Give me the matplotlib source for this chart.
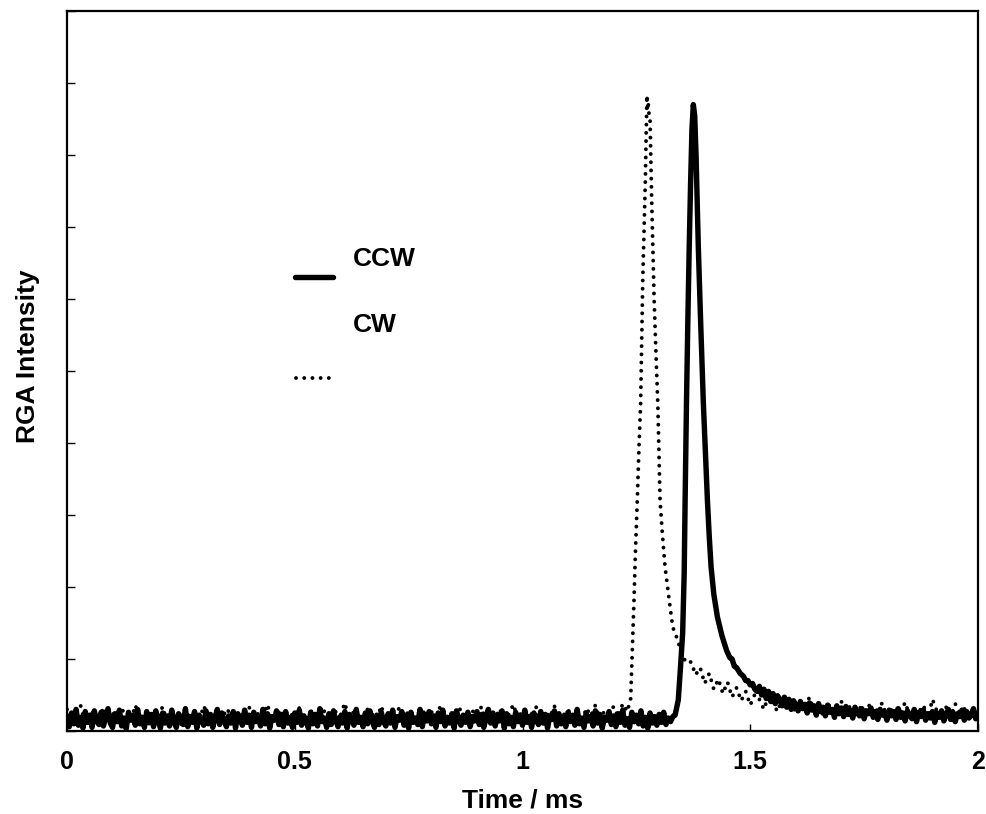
import numpy as np
import matplotlib
matplotlib.use("Agg")
import matplotlib.pyplot as plt

plt.rcParams['font.family'] = ['Liberation Sans', 'DejaVu Sans']
plt.rcParams['font.weight'] = 'bold'

# --- CCW trace (solid), 5 us sampling on the flat parts ---
ccw_base_t = np.round(np.arange(0.0, 1.3325, 0.005), 4)
ccw_base_y = [0.21, 0.06, 0.25, 0.10, 0.30, 0.08, 0.19, 0.04, 0.27, 0.12, 0.22, 0.05, 0.28, 0.14, 0.09, 0.26, 0.07, 0.20, 0.31, 0.11,
              0.05, 0.24, 0.13, 0.29, 0.07, 0.18, 0.03, 0.26, 0.15, 0.22, 0.08, 0.30, 0.10, 0.19, 0.05, 0.27, 0.12, 0.23, 0.06, 0.28,
              0.16, 0.04, 0.25, 0.11, 0.21, 0.07, 0.29, 0.13, 0.05, 0.24, 0.18, 0.09, 0.31, 0.06, 0.20, 0.12, 0.27, 0.04, 0.22, 0.15,
              0.08, 0.28, 0.10, 0.23, 0.05, 0.19, 0.30, 0.09, 0.25, 0.14, 0.06, 0.21, 0.11, 0.27, 0.04, 0.24, 0.16, 0.08, 0.29, 0.12,
              0.22, 0.05, 0.26, 0.13, 0.18, 0.07, 0.30, 0.10, 0.24, 0.04, 0.20, 0.15, 0.28, 0.09, 0.23, 0.06, 0.27, 0.11, 0.19, 0.05,
              0.25, 0.12, 0.29, 0.08, 0.21, 0.14, 0.04, 0.26, 0.10, 0.23, 0.07, 0.31, 0.13, 0.18, 0.05, 0.24, 0.09, 0.28, 0.15, 0.06,
              0.20, 0.11, 0.27, 0.04, 0.23, 0.16, 0.08, 0.30, 0.12, 0.19, 0.06, 0.25, 0.10, 0.28, 0.14, 0.05, 0.22, 0.09, 0.26, 0.13,
              0.07, 0.24, 0.11, 0.29, 0.05, 0.20, 0.15, 0.27, 0.08, 0.22, 0.04, 0.26, 0.12, 0.18, 0.09, 0.30, 0.06, 0.23, 0.14, 0.27,
              0.10, 0.21, 0.05, 0.25, 0.13, 0.29, 0.07, 0.19, 0.11, 0.24, 0.04, 0.28, 0.16, 0.08, 0.22, 0.12, 0.26, 0.06, 0.20, 0.14,
              0.27, 0.09, 0.23, 0.05, 0.18, 0.30, 0.11, 0.25, 0.07, 0.21, 0.14, 0.28, 0.04, 0.24, 0.10, 0.19, 0.06, 0.26, 0.13, 0.22,
              0.08, 0.29, 0.12, 0.20, 0.05, 0.25, 0.15, 0.09, 0.27, 0.11, 0.23, 0.04, 0.21, 0.16, 0.28, 0.07, 0.24, 0.10, 0.19, 0.06,
              0.26, 0.13, 0.22, 0.08, 0.30, 0.10, 0.18, 0.05, 0.25, 0.14, 0.20, 0.07, 0.28, 0.11, 0.23, 0.04, 0.19, 0.15, 0.27, 0.09,
              0.21, 0.06, 0.24, 0.12, 0.29, 0.08, 0.17, 0.05, 0.26, 0.13, 0.22, 0.10, 0.28, 0.07, 0.19, 0.04, 0.25, 0.11, 0.20, 0.08,
              0.23, 0.12, 0.26, 0.09, 0.18, 0.13, 0.20]
ccw_peak_t = [1.335, 1.342, 1.347, 1.3516, 1.355, 1.357, 1.360, 1.363, 1.366,
              1.369, 1.372, 1.375, 1.378, 1.381, 1.386, 1.391, 1.397, 1.402,
              1.406, 1.410, 1.414, 1.420, 1.428, 1.438, 1.448, 1.455, 1.460,
              1.465, 1.470, 1.478, 1.485, 1.490, 1.495, 1.500, 1.505]
ccw_peak_y = [0.22, 0.43, 0.90, 1.36, 2.20, 3.20, 4.56, 5.70, 6.72,
              7.60, 8.35, 8.70, 8.55, 8.00, 6.72, 5.70, 4.56, 3.80,
              3.20, 2.70, 2.28, 1.90, 1.58, 1.32, 1.12, 1.02, 1.00,
              0.90, 0.88, 0.80, 0.76, 0.70, 0.70, 0.64, 0.66]
ccw_tail_t = np.round(np.arange(1.51, 2.0025, 0.005), 4)
ccw_tail_y = [0.58, 0.55, 0.62, 0.50, 0.58, 0.45, 0.55, 0.41, 0.52, 0.38, 0.49, 0.43, 0.35, 0.47, 0.33, 0.44, 0.30, 0.42, 0.36, 0.28,
              0.41, 0.31, 0.37, 0.25, 0.39, 0.29, 0.35, 0.22, 0.38, 0.27, 0.33, 0.21, 0.36, 0.26, 0.30, 0.19, 0.35, 0.24, 0.32, 0.20,
              0.34, 0.23, 0.29, 0.18, 0.33, 0.25, 0.21, 0.31, 0.17, 0.28, 0.24, 0.32, 0.19, 0.27, 0.16, 0.30, 0.22, 0.26, 0.15, 0.29,
              0.21, 0.27, 0.16, 0.31, 0.19, 0.25, 0.14, 0.28, 0.22, 0.17, 0.30, 0.13, 0.26, 0.20, 0.29, 0.15, 0.24, 0.18, 0.27, 0.12,
              0.25, 0.19, 0.28, 0.14, 0.23, 0.30, 0.16, 0.26, 0.13, 0.24, 0.20, 0.29, 0.15, 0.27, 0.18, 0.22, 0.31, 0.17, 0.25]

# --- CW trace (dotted) ---
cw_base_t = np.round(np.arange(0.0, 1.235, 0.01), 3)
cw_base_y = [0.30, 0.12, 0.24, 0.35, 0.09, 0.21, 0.28, 0.14, 0.33, 0.18,
             0.26, 0.07, 0.31, 0.20, 0.13, 0.36, 0.16, 0.25, 0.10, 0.29,
             0.19, 0.34, 0.11, 0.27, 0.22, 0.08, 0.32, 0.17, 0.26, 0.13,
             0.35, 0.20, 0.10, 0.28, 0.15, 0.31, 0.23, 0.09, 0.27, 0.18,
             0.33, 0.12, 0.25, 0.19, 0.37, 0.14, 0.22, 0.30, 0.11, 0.26,
             0.17, 0.32, 0.09, 0.24, 0.29, 0.15, 0.34, 0.20, 0.12, 0.27,
             0.21, 0.39, 0.13, 0.28, 0.18, 0.10, 0.31, 0.23, 0.16, 0.35,
             0.11, 0.26, 0.20, 0.33, 0.14, 0.29, 0.08, 0.24, 0.30, 0.17,
             0.27, 0.13, 0.36, 0.19, 0.22, 0.10, 0.32, 0.25, 0.15, 0.28,
             0.20, 0.34, 0.12, 0.26, 0.18, 0.31, 0.09, 0.23, 0.37, 0.16,
             0.29, 0.14, 0.24, 0.33, 0.11, 0.27, 0.19, 0.35, 0.13, 0.22,
             0.30, 0.17, 0.26, 0.10, 0.32, 0.21, 0.36, 0.15, 0.28, 0.23,
             0.34, 0.19, 0.38, 0.27]
cw_peak_t = [1.2375, 1.241, 1.2448, 1.248, 1.252, 1.2555, 1.2594, 1.2617,
             1.264, 1.267, 1.2697, 1.2715, 1.2733, 1.2745, 1.276, 1.278,
             1.280, 1.2836, 1.289, 1.293, 1.297, 1.302, 1.3075, 1.313,
             1.324, 1.330, 1.341, 1.350, 1.361]
cw_peak_y = [0.45, 1.10, 1.82, 2.50, 3.20, 3.90, 4.56, 5.40,
             6.26, 7.00, 7.65, 8.30, 8.83, 8.65, 8.72, 8.55,
             8.49, 7.375, 5.99, 5.25, 4.56, 3.20, 2.70, 2.28,
             1.72, 1.44, 1.26, 1.05, 0.94]
cw_tail_t = np.round(np.arange(1.37, 2.005, 0.01), 3)
cw_tail_y = [0.96, 0.78, 0.88, 0.66, 0.80, 0.58, 0.72, 0.52, 0.68, 0.47,
             0.60, 0.42, 0.55, 0.36, 0.51, 0.44, 0.30, 0.49, 0.38, 0.27,
             0.45, 0.34, 0.41, 0.25, 0.39, 0.31, 0.47, 0.28, 0.36, 0.22,
             0.38, 0.30, 0.24, 0.41, 0.27, 0.35, 0.20, 0.33, 0.26, 0.37,
             0.22, 0.31, 0.39, 0.19, 0.29, 0.34, 0.24, 0.40, 0.21, 0.30,
             0.26, 0.36, 0.18, 0.44, 0.27, 0.23, 0.33, 0.20, 0.38, 0.25,
             0.31, 0.19, 0.28, 0.22]

x_ticks = [0, 0.5, 1, 1.5, 2]
x_ticklabels = ['0', '0.5', '1', '1.5', '2']

ccw_t = np.concatenate([ccw_base_t, ccw_peak_t, ccw_tail_t])
ccw_y = np.concatenate([ccw_base_y, ccw_peak_y, ccw_tail_y])
cw_t = np.concatenate([cw_base_t, cw_peak_t, cw_tail_t])
cw_y = np.concatenate([cw_base_y, cw_peak_y, cw_tail_y])

fig = plt.figure(figsize=(9.87, 8.14), dpi=100)
ax = fig.add_axes([67 / 987, 1 - 731 / 814, 911 / 987, 720 / 814])

ax.plot(ccw_t, ccw_y, color='black', lw=3.9, solid_joinstyle='round',
        solid_capstyle='round')
ax.plot(cw_t, cw_y, color='black', lw=2.8, dashes=(0.01, 2.1),
        dash_capstyle='round')

ax.set_xlim(0, 2)
ax.set_ylim(0, 10)
ax.set_xticks(x_ticks)
ax.set_xticklabels(x_ticklabels)
ax.set_yticks(range(0, 11))
ax.set_yticklabels([])
ax.tick_params(axis='x', direction='in', length=5, width=1, labelsize=18,
               pad=14, top=False)
ax.tick_params(axis='y', direction='in', length=6, width=1, right=False)
for s in ax.spines.values():
    s.set_linewidth(1.6)

ax.set_xlabel('Time / ms', fontsize=19, fontweight='bold')
ax.xaxis.set_label_coords(0.5, -0.08)
ax.set_ylabel('RGA Intensity', fontsize=19, fontweight='bold')
ax.yaxis.set_label_coords(-0.03, 0.52)

# hand-placed legend as in the original
ax.plot([(295 - 67) / 911, (333 - 67) / 911], [(731 - 277) / 720] * 2,
        transform=ax.transAxes, color='black', lw=3.9, solid_capstyle='round')
ax.plot([(296 - 67) / 911, (333 - 67) / 911], [(731 - 378) / 720] * 2,
        transform=ax.transAxes, color='black', lw=2.8, dashes=(0.01, 2.1),
        dash_capstyle='round')
ax.text((353 - 67) / 911, (731 - 266) / 720, 'CCW', transform=ax.transAxes,
        fontsize=19, fontweight='bold', va='baseline')
ax.text((353 - 67) / 911, (731 - 332) / 720, 'CW', transform=ax.transAxes,
        fontsize=19, fontweight='bold', va='baseline')

fig.savefig('out.png', dpi=100)
